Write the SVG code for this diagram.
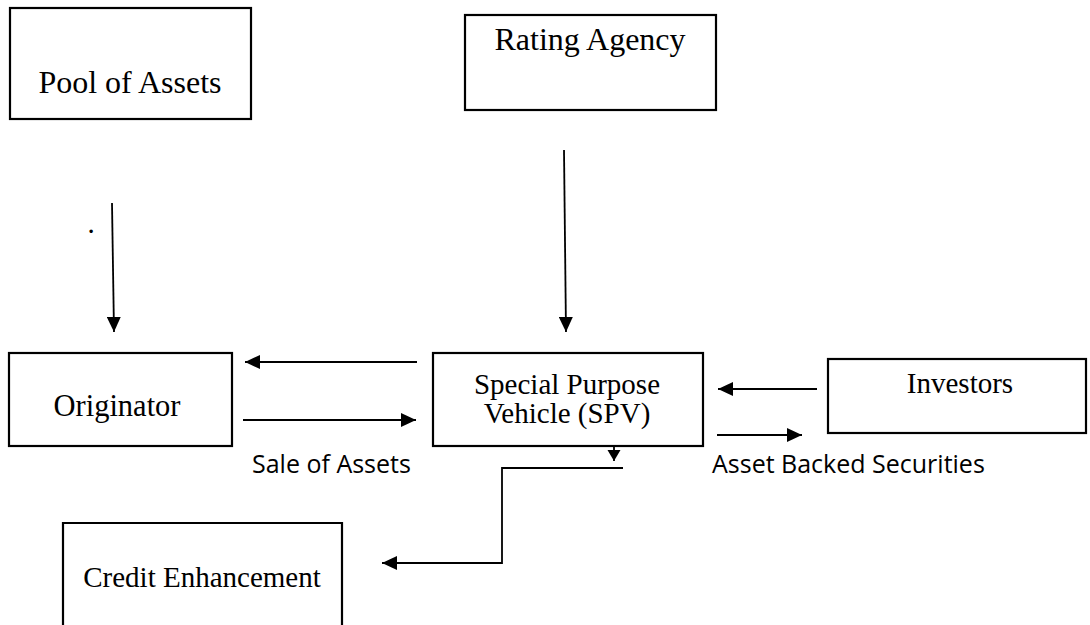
<svg xmlns="http://www.w3.org/2000/svg" width="1090" height="625" viewBox="0 0 1090 625">
<defs>
<style>
.box{fill:#fff;stroke:#000;stroke-width:2.2}
.t{font-family:"Liberation Serif","Times New Roman",serif;fill:#000;text-anchor:middle}
.lbl{font-family:"Open Sans","Liberation Sans",Arial,sans-serif;font-size:25px;fill:#000}
.c{fill:none;stroke:#000;stroke-width:1.8}
</style>
<marker id="ah" markerUnits="userSpaceOnUse" markerWidth="16" markerHeight="14" refX="15" refY="7" orient="auto">
<path d="M0,0 L15,7 L0,14 Z" fill="#000"/>
</marker>
<marker id="ahs" markerUnits="userSpaceOnUse" markerWidth="12" markerHeight="14" refX="11" refY="7" orient="auto">
<path d="M0,0.5 L11,7 L0,13.5 Z" fill="#000"/>
</marker>
</defs>
<rect width="1090" height="625" fill="#fff"/>

<g id="pool-of-assets">
<rect class="box" x="10" y="8" width="241" height="111"/>
<text class="t" x="130" y="93" font-size="32">Pool of Assets</text>
</g>

<g id="rating-agency">
<rect class="box" x="465" y="15" width="251" height="95"/>
<text class="t" x="590" y="50" font-size="32">Rating Agency</text>
</g>

<g id="originator">
<rect class="box" x="9" y="353" width="223" height="93"/>
<text class="t" x="117" y="416" font-size="30.5">Originator</text>
</g>

<g id="spv">
<rect class="box" x="433" y="353" width="270" height="93"/>
<text class="t" x="567" y="394" font-size="29">Special Purpose</text>
<text class="t" x="567" y="423" font-size="29">Vehicle (SPV)</text>
</g>

<g id="investors">
<rect class="box" x="828" y="359" width="258" height="74"/>
<text class="t" x="960" y="393" font-size="29">Investors</text>
</g>

<g id="credit-enhancement">
<path class="box" d="M63,625 V523 H342 V625"/>
<text class="t" x="202" y="587" font-size="29">Credit Enhancement</text>
</g>

<g id="connectors">
<line class="c" x1="112" y1="203" x2="114" y2="332" marker-end="url(#ah)"/>
<line class="c" x1="564" y1="150" x2="566" y2="332" marker-end="url(#ah)"/>
<line class="c" x1="417" y1="362" x2="245" y2="362" marker-end="url(#ah)"/>
<line class="c" x1="243" y1="420" x2="416" y2="420" marker-end="url(#ah)"/>
<line class="c" x1="817" y1="389" x2="718" y2="389" marker-end="url(#ah)"/>
<line class="c" x1="717" y1="435" x2="802" y2="435" marker-end="url(#ah)"/>
<line class="c" x1="614" y1="446" x2="614" y2="461" marker-end="url(#ahs)"/>
<path class="c" d="M623,468 H502 V563 H382" marker-end="url(#ah)"/>
</g>

<g id="labels">
<text class="t" x="91" y="233" font-size="29">.</text>
<text class="lbl" x="252" y="473">Sale of Assets</text>
<text class="lbl" x="712" y="473">Asset Backed Securities</text>
</g>
</svg>
